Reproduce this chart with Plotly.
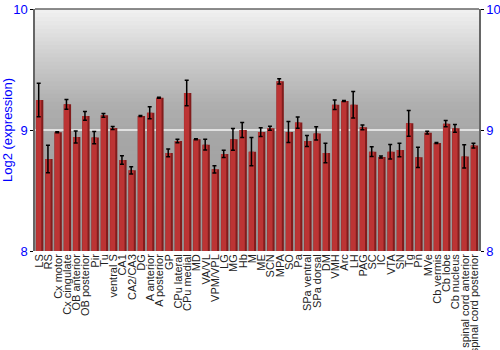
import plotly.graph_objects as go

categories = ["LS", "RS", "Cx motor", "Cx cingulate", "OB anterior", "OB posterior", "Pir", "Tu",
              "ventral S", "CA1", "CA2/CA3", "DG", "A anterior", "A posterior", "GP", "CPu lateral",
              "CPu medial", "MD", "VA/VL", "VPM/VPL", "LG", "MG", "Hb", "M", "ME", "SCN", "MPA", "SO",
              "Pa", "SPa ventral", "SPa dorsal", "DM", "VMH", "Arc", "LH", "PAG", "SC", "IC", "VTA", "SN",
              "Tg", "Pn", "MVe", "Cb vermis", "Cb lobe", "Cb nucleus", "spinal cord anterior",
              "spinal cord posterior"]

values = [9.248, 8.760, 8.981, 9.212, 8.942, 9.116, 8.937, 9.121,
          9.017, 8.752, 8.667, 9.116, 9.143, 9.267, 8.810, 8.909,
          9.306, 8.923, 8.879, 8.675, 8.802, 8.923, 9.000, 8.821, 8.983, 9.014, 9.402, 8.983,
          9.061, 8.909, 8.972, 8.810, 9.209, 9.240, 9.209, 9.022, 8.821, 8.777, 8.821, 8.835,
          9.055, 8.774, 8.978, 8.893, 9.052, 9.014, 8.782, 8.871]

errors = [0.138, 0.113, 0.004, 0.040, 0.050, 0.036, 0.050, 0.015,
          0.012, 0.036, 0.030, 0.004, 0.050, 0.004, 0.032, 0.014,
          0.105, 0.004, 0.044, 0.030, 0.030, 0.090, 0.063, 0.116, 0.036, 0.016, 0.022, 0.087,
          0.046, 0.046, 0.055, 0.080, 0.039, 0.004, 0.109, 0.020, 0.040, 0.008, 0.060, 0.056,
          0.107, 0.084, 0.012, 0.004, 0.026, 0.032, 0.096, 0.019]

y_ticks = [8, 9, 10]
y_range = [8, 10]

fig = go.Figure()
# dark body of each bar
fig.add_trace(go.Bar(
    x=categories, y=values, base=0, width=0.8, offset=-0.4,
    marker=dict(color="rgb(130,28,28)", line=dict(width=0)),
    showlegend=False, hoverinfo="skip",
))
# lighter left/centre highlight of each bar
fig.add_trace(go.Bar(
    x=categories, y=values, base=0, width=0.56, offset=-0.38,
    marker=dict(color="rgb(188,52,52)", line=dict(width=0)),
    error_y=dict(type="data", array=errors, color="black", thickness=1.5, width=2),
    showlegend=False,
))
# invisible trace for right axis
fig.add_trace(go.Scatter(x=[categories[0]], y=[9], yaxis="y2", mode="markers",
                         marker=dict(opacity=0), showlegend=False, hoverinfo="skip"))

shapes = []
n = 60
stops = [(0.0, 242), (0.2, 205), (0.4, 174), (0.5, 168), (1.0, 150)]


def gray_at(t):
    for (t0, g0), (t1, g1) in zip(stops[:-1], stops[1:]):
        if t0 <= t <= t1:
            return g0 + (g1 - g0) * (t - t0) / (t1 - t0)
    return stops[-1][1]


# draw from top down, each band extends to the bottom so no seams appear
for i in range(n):
    g = int(round(gray_at((i + 0.5) / n)))
    shapes.append(dict(type="rect", xref="x domain", yref="y domain",
                       x0=0, x1=1, y0=0, y1=1 - i / n,
                       fillcolor="rgb(%d,%d,%d)" % (g, g, g), line=dict(width=0), layer="below"))
shapes.append(dict(type="line", xref="x domain", yref="y", x0=0, x1=1, y0=9, y1=9,
                   line=dict(color="rgb(245,245,245)", width=1.5), layer="below"))
shapes.append(dict(type="line", xref="x domain", yref="y domain", x0=0, x1=1, y0=1, y1=1,
                   line=dict(color="#666666", width=1.5), layer="above"))

axis_font = dict(family="Liberation Sans, Arial, sans-serif", size=13, color="#0000ff")

fig.update_layout(
    width=500, height=350,
    margin=dict(l=35, r=21, t=9, b=99),
    paper_bgcolor="white", plot_bgcolor="rgba(0,0,0,0)",
    shapes=shapes,
    barmode="overlay",
    xaxis=dict(tickangle=-90, tickfont=dict(family="Liberation Sans, Arial, sans-serif", size=11, color="#222222"),
               tickmode="array", tickvals=categories, ticktext=categories,
               automargin=False,
               showgrid=False, ticks="", showline=False, zeroline=False,
               range=[-0.5, len(categories) - 0.5]),
    yaxis=dict(range=y_range, tickvals=y_ticks, showgrid=False, zeroline=False,
               automargin=False,
               showline=True, linecolor="#666666", linewidth=1.5,
               ticks="outside", ticklen=3, tickcolor="black",
               tickfont=axis_font,
               title=dict(text="Log2 (expression)", font=axis_font, standoff=4)),
    yaxis2=dict(range=y_range, tickvals=y_ticks, overlaying="y", side="right",
                automargin=False,
                showgrid=False, zeroline=False, showline=True, linecolor="#666666", linewidth=1.5,
                ticks="outside", ticklen=3, tickcolor="black", tickfont=axis_font),
)

fig.write_html("out.html")
